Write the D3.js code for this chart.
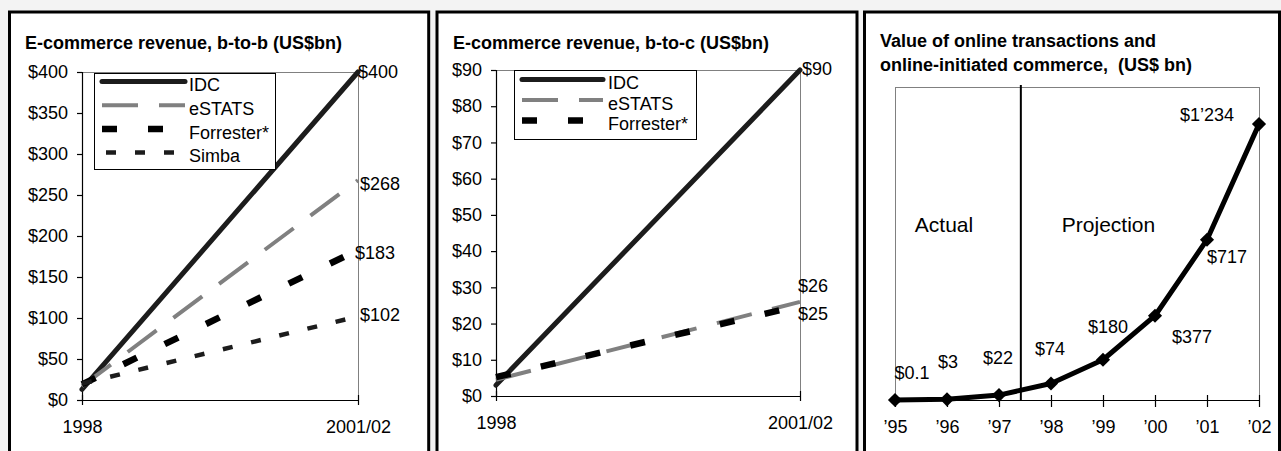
<!DOCTYPE html>
<html><head><meta charset="utf-8">
<script src="https://cdn.jsdelivr.net/npm/d3@7"></script>
<style>
body{margin:0;background:#f3f3f3;}
svg text{font-family:"Liberation Sans",Arial,sans-serif;fill:#000;}
</style>
</head><body>
<svg id="c" width="1281" height="451"></svg>
<script>
// ---------- DATA ----------
const b2bCategories = ["1998", "2001/02"];
const b2bSeriesNames = ["IDC", "eSTATS", "Forrester*", "Simba"];
const b2bIDC = [13, 400];
const b2bESTATS = [17, 268];
const b2bForrester = [19, 183];
const b2bSimba = [20, 102];
const b2bTicks = [0, 50, 100, 150, 200, 250, 300, 350, 400];

const b2cCategories = ["1998", "2001/02"];
const b2cSeriesNames = ["IDC", "eSTATS", "Forrester*"];
const b2cIDC = [3, 90];
const b2cESTATS = [4.5, 26];
const b2cForrester = [5.2, 25];
const b2cTicks = [0, 10, 20, 30, 40, 50, 60, 70, 80, 90];

const onlineYears = ["\u201995", "\u201996", "\u201997", "\u201998", "\u201999", "\u201900", "\u201901", "\u201902"];
const onlineValues = [0.1, 3, 22, 74, 180, 377, 717, 1234];
const onlineLabels = ["$0.1", "$3", "$22", "$74", "$180", "$377", "$717", "$1\u2019234"];

// ---------- STYLES ----------
const seriesStyle = {
  "IDC":        {stroke:"#1c1c1c", width:5,   dash:null, cap:"round"},
  "eSTATS":     {stroke:"#808080", width:4,   dash:"36,21", cap:"butt"},
  "Forrester*": {stroke:"#000000", width:6.5, dash:"15,31", cap:"butt"},
  "Simba":      {stroke:"#1c1c1c", width:4.5, dash:"10,19", cap:"butt"}
};

const svg = d3.select("#c");
const FS = 18;

// panel frames
const panels = [
  {x:9.5, w:419.2},
  {x:437, w:420},
  {x:864.5, w:415}
];
panels.forEach(p => {
  svg.append("rect").attr("x", p.x).attr("y", 12).attr("width", p.w).attr("height", 470)
    .attr("fill", "#fff").attr("stroke", "#000").attr("stroke-width", 3);
});

function styleAxis(g) {
  g.selectAll("path.domain").attr("stroke", "#000").attr("stroke-width", 1.2);
  g.selectAll(".tick line").attr("stroke", "#000").attr("stroke-width", 1.2);
  g.selectAll("text").attr("font-size", FS).attr("font-family", '"Liberation Sans",Arial,sans-serif').attr("fill", "#000");
  g.attr("font-size", null).attr("font-family", null);
}

function linePanel(cfg) {
  const g = svg.append("g");
  const x = d3.scalePoint().domain(cfg.categories).range([cfg.x0, cfg.x1]);
  const y = d3.scaleLinear().domain([0, cfg.max]).range([cfg.yb, cfg.yt]);

  g.append("rect").attr("x", cfg.x0 + 0.5).attr("y", y(cfg.max) + 0.5)
    .attr("width", cfg.x1 - cfg.x0).attr("height", cfg.yb - cfg.yt)
    .attr("fill", "none").attr("stroke", "#808080").attr("stroke-width", 1);

  const ya = g.append("g").attr("transform", `translate(${cfg.x0},0)`)
    .call(d3.axisLeft(y).tickValues(cfg.ticks).tickFormat(d => "$" + d).tickSize(5).tickPadding(9));
  styleAxis(ya);

  const xa = g.append("g").attr("transform", `translate(0,${cfg.yb})`)
    .call(d3.axisBottom(x).tickSizeInner(5).tickSizeOuter(0).tickPadding(15));
  xa.selectAll(".tick line").attr("y1", -5);
  styleAxis(xa);

  const line = d3.line().x((d, i) => x(cfg.categories[i])).y(d => y(d));
  cfg.series.forEach(s => {
    const st = seriesStyle[s.name];
    g.append("path").datum(s.values).attr("d", line)
      .attr("fill", "none").attr("stroke", st.stroke).attr("stroke-width", st.width)
      .attr("stroke-dasharray", st.dash).attr("stroke-linecap", st.cap);
  });
  // end labels
  cfg.series.forEach(s => {
    const last = s.values.length - 1;
    g.append("text").attr("x", x(cfg.categories[last]) + s.ldx).attr("y", y(s.values[last]) + s.ldy)
      .attr("dy", "0.35em").attr("font-size", FS).text("$" + s.values[last]);
  });

  // legend
  const L = cfg.legend;
  g.append("rect").attr("x", L.x0 + 0.5).attr("y", L.y0 + 0.5).attr("width", L.x1 - L.x0).attr("height", L.y1 - L.y0)
    .attr("fill", "#fff").attr("stroke", "#000").attr("stroke-width", 1);
  cfg.series.forEach((s, i) => {
    const st = seriesStyle[s.name];
    const ty = L.ty + i * L.step;
    g.append("line").attr("x1", L.lx0).attr("x2", L.lx1).attr("y1", ty - 3.5).attr("y2", ty - 3.5)
      .attr("stroke", st.stroke).attr("stroke-width", st.width)
      .attr("stroke-dasharray", st.dash).attr("stroke-linecap", st.cap)
      .attr("stroke-dashoffset", s.name === "Simba" ? -4 : 0);
    g.append("text").attr("x", L.tx).attr("y", ty).attr("dy", "0.35em").attr("font-size", FS).text(s.name);
  });

  // title
  g.append("text").attr("x", cfg.titleX).attr("y", 49).attr("font-size", FS).attr("font-weight", "bold").text(cfg.title);
}

linePanel({
  title: "E-commerce revenue, b-to-b (US$bn)", titleX: 25,
  categories: b2bCategories, max: 400, ticks: b2bTicks,
  x0: 82, x1: 358, yt: 72, yb: 400,
  series: [
    {name: b2bSeriesNames[0], values: b2bIDC, ldx: 0, ldy: 0},
    {name: b2bSeriesNames[1], values: b2bESTATS, ldx: 2, ldy: 3},
    {name: b2bSeriesNames[2], values: b2bForrester, ldx: -3, ldy: 3},
    {name: b2bSeriesNames[3], values: b2bSimba, ldx: 2, ldy: -2}
  ],
  legend: {x0: 94, x1: 275, y0: 73, y1: 169, lx0: 102, lx1: 185, tx: 189, ty: 85, step: 23.7}
});

linePanel({
  title: "E-commerce revenue, b-to-c (US$bn)", titleX: 453,
  categories: b2cCategories, max: 90, ticks: b2cTicks,
  x0: 496, x1: 800, yt: 70, yb: 396,
  series: [
    {name: b2cSeriesNames[0], values: b2cIDC, ldx: 2, ldy: -1},
    {name: b2cSeriesNames[1], values: b2cESTATS, ldx: -2, ldy: -16},
    {name: b2cSeriesNames[2], values: b2cForrester, ldx: -2, ldy: 8}
  ],
  legend: {x0: 514, x1: 696, y0: 70, y1: 139, lx0: 522, lx1: 603, tx: 608, ty: 83, step: 20.5}
});

// ---------- Panel 3 ----------
(function () {
  const g = svg.append("g");
  const x0 = 895, x1 = 1259, yt = 87, yb = 400;
  const x = d3.scalePoint().domain(onlineYears).range([x0, x1]);
  const y = d3.scaleLinear().domain([0, 1400]).range([yb, yt]);

  g.append("rect").attr("x", x0 + 0.5).attr("y", yt + 0.5).attr("width", x1 - x0).attr("height", yb - yt)
    .attr("fill", "none").attr("stroke", "#808080").attr("stroke-width", 1);

  const xa = g.append("g").attr("transform", `translate(0,${yb})`)
    .call(d3.axisBottom(x).tickSizeInner(7).tickSizeOuter(0).tickPadding(13));
  xa.selectAll(".tick line").attr("y1", -5);
  styleAxis(xa);

  // separator between actual and projection
  const sx = x(onlineYears[2]) + 0.42 * x.step();
  g.append("line").attr("x1", sx).attr("x2", sx).attr("y1", yt - 2).attr("y2", yb)
    .attr("stroke", "#000").attr("stroke-width", 2);

  g.append("text").attr("x", x(onlineYears[1]) - 3).attr("y", y(750)).attr("text-anchor", "middle")
    .attr("font-size", 21).text("Actual");
  g.append("text").attr("x", x(onlineYears[4]) + 5.5).attr("y", y(750)).attr("text-anchor", "middle")
    .attr("font-size", 21).text("Projection");

  const line = d3.line().x((d, i) => x(onlineYears[i])).y(d => y(d));
  g.append("path").datum(onlineValues).attr("d", line).attr("fill", "none")
    .attr("stroke", "#000").attr("stroke-width", 5).attr("stroke-linejoin", "round");

  const sym = d3.symbol().type(d3.symbolSquare).size(100);
  g.selectAll("path.mk").data(onlineValues).enter().append("path").attr("class", "mk")
    .attr("d", sym).attr("fill", "#000")
    .attr("transform", (d, i) => `translate(${x(onlineYears[i])},${y(d)}) rotate(45)`);

  const labelOffsets = [[17, -27], [1, -38], [-1, -37], [-1, -35], [5, -33], [37, 21], [20, 17], [-52, -9]];
  g.selectAll("text.lb").data(onlineValues).enter().append("text").attr("class", "lb")
    .attr("x", (d, i) => x(onlineYears[i]) + labelOffsets[i][0])
    .attr("y", (d, i) => y(d) + labelOffsets[i][1])
    .attr("dy", "0.35em").attr("text-anchor", "middle").attr("font-size", FS)
    .text((d, i) => onlineLabels[i]);

  const t = g.append("text").attr("font-size", FS).attr("font-weight", "bold").style("white-space", "pre");
  t.append("tspan").attr("x", 880).attr("y", 47).text("Value of online transactions and");
  t.append("tspan").attr("x", 880).attr("y", 71).text("online-initiated commerce,  (US$ bn)");
})();
</script>
</body></html>
